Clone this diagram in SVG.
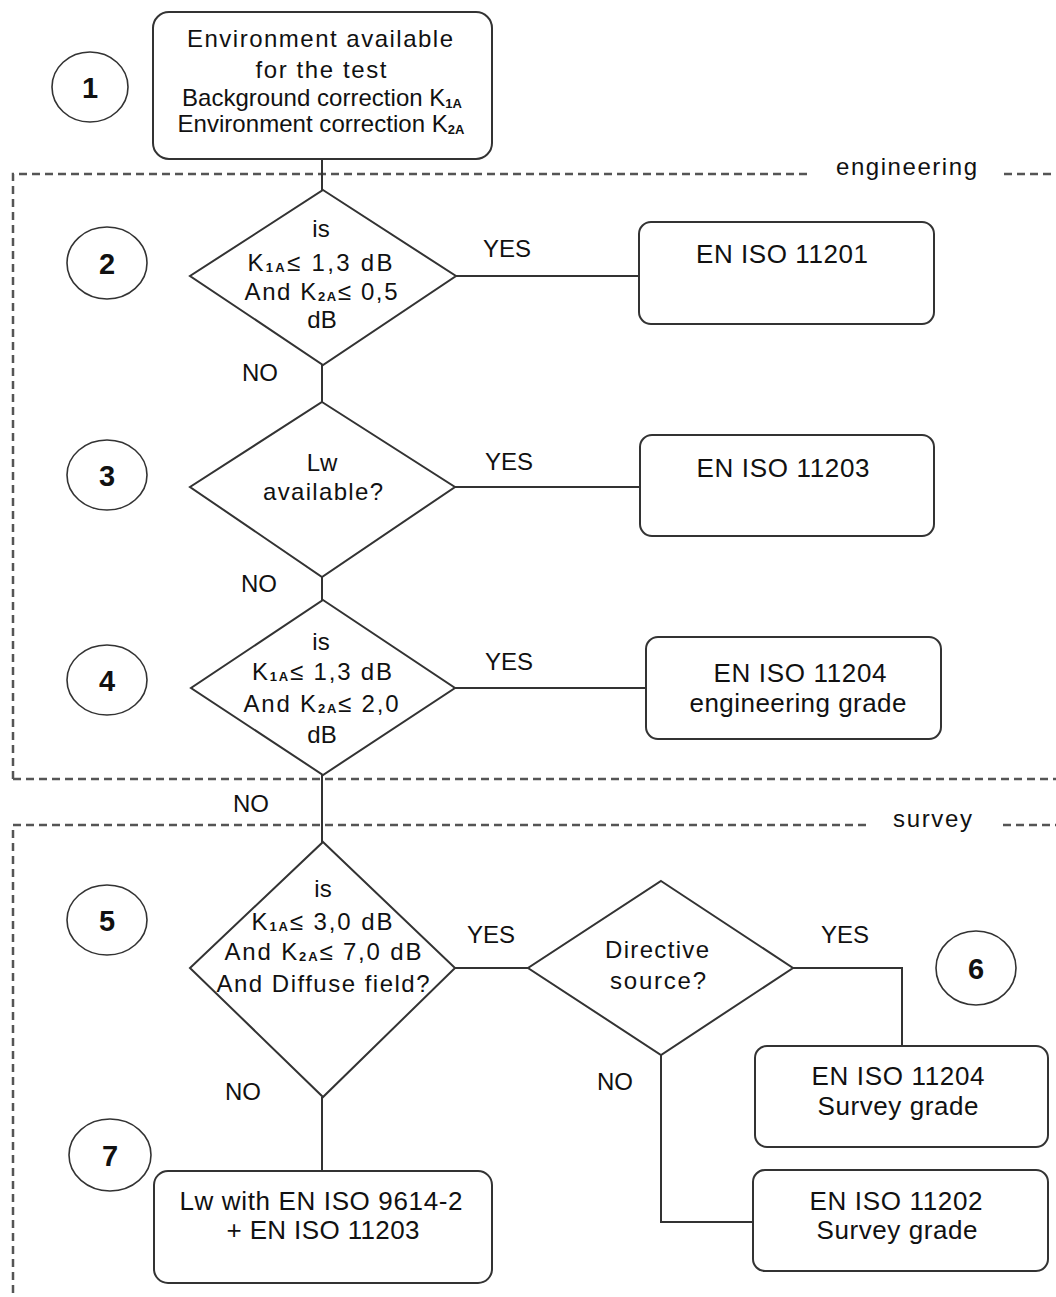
<svg xmlns="http://www.w3.org/2000/svg" width="1056" height="1297" viewBox="0 0 1056 1297">
<style>
.bg{fill:#fff}
.box{fill:#fff;stroke:#333;stroke-width:2}
.dia{fill:#fff;stroke:#333;stroke-width:2}
.circ{fill:#fff;stroke:#333;stroke-width:1.6}
.con{fill:none;stroke:#333;stroke-width:2}
.dash{fill:none;stroke:#555;stroke-width:2.5;stroke-dasharray:8 5}
text{font-family:"Liberation Sans",Arial,sans-serif;fill:#111}
.t{font-size:24px;text-anchor:middle}
.tb{font-size:26px;text-anchor:middle}
.lbl{font-size:24px}
.num{font-size:29px;font-weight:bold;text-anchor:middle}
.sub{font-size:13px;font-weight:bold}
</style>
<rect class="bg" x="0" y="0" width="1056" height="1297"/>

<g id="regions">
  <path class="dash" d="M13,1293 V825 H866"/>
  <path class="dash" d="M1003,825 H1056"/>
  <path class="dash" d="M13,779 V174 H808"/>
  <path class="dash" d="M1004,174 H1056"/>
  <path class="dash" d="M13,779 H1056"/>
  <text class="lbl" x="836" y="175" textLength="141" font-size="23">engineering</text>
  <text class="lbl" x="893" y="827" textLength="79" font-size="23">survey</text>
</g>

<g id="connectors">
  <path class="con" d="M322,159 V190"/>
  <path class="con" d="M456,276 H639"/>
  <path class="con" d="M322,365 V402"/>
  <path class="con" d="M455,487 H640"/>
  <path class="con" d="M322,577 V600"/>
  <path class="con" d="M455,688 H646"/>
  <path class="con" d="M322,775 V843"/>
  <path class="con" d="M455,968 H528"/>
  <path class="con" d="M793,968 H902 V1046"/>
  <path class="con" d="M661,1055 V1222 H753"/>
  <path class="con" d="M322,1097 V1171"/>
  <text class="lbl" x="483" y="257">YES</text>
  <text class="lbl" x="242" y="381">NO</text>
  <text class="lbl" x="485" y="470">YES</text>
  <text class="lbl" x="241" y="592">NO</text>
  <text class="lbl" x="485" y="670">YES</text>
  <text class="lbl" x="233" y="812">NO</text>
  <text class="lbl" x="467" y="943">YES</text>
  <text class="lbl" x="821" y="943">YES</text>
  <text class="lbl" x="597" y="1090">NO</text>
  <text class="lbl" x="225" y="1100">NO</text>
</g>

<g id="node1">
  <rect class="box" x="153" y="12" width="339" height="147" rx="16"/>
  <text class="t" x="320" y="47" font-size="26" textLength="266">Environment available</text>
  <text class="t" x="321" y="78" font-size="26" textLength="131">for the test</text>
  <text class="t" x="322" y="106" font-size="22" textLength="280">Background correction K<tspan class="sub" dy="2">1A</tspan></text>
  <text class="t" x="321" y="132" font-size="22" textLength="287">Environment correction K<tspan class="sub" dy="2">2A</tspan></text>
</g>

<g id="node2">
  <polygon class="dia" points="323,190 456,276 323,365 190,276"/>
  <text class="t" x="321" y="237">is</text>
  <text class="t" x="320" y="271" textLength="145">K<tspan class="sub" dy="1">1A</tspan><tspan dy="-1">≤ 1,3 dB</tspan></text>
  <text class="t" x="321" y="300" textLength="153">And K<tspan class="sub" dy="1">2A</tspan><tspan dy="-1">≤ 0,5</tspan></text>
  <text class="t" x="322" y="328">dB</text>
</g>

<g id="node3">
  <polygon class="dia" points="322,402 455,487 322,577 190,487"/>
  <text class="t" x="322" y="471">Lw</text>
  <text class="t" x="323" y="500" textLength="120">available?</text>
</g>

<g id="node4">
  <polygon class="dia" points="323,600 455,688 323,775 191,688"/>
  <text class="t" x="321" y="650">is</text>
  <text class="t" x="322" y="680" textLength="140">K<tspan class="sub" dy="1">1A</tspan><tspan dy="-1">≤ 1,3 dB</tspan></text>
  <text class="t" x="321" y="712" textLength="155">And K<tspan class="sub" dy="1">2A</tspan><tspan dy="-1">≤ 2,0</tspan></text>
  <text class="t" x="322" y="743">dB</text>
</g>

<g id="node5">
  <polygon class="dia" points="323,842 455,968 323,1097 190,968"/>
  <text class="t" x="323" y="897">is</text>
  <text class="t" x="322" y="930" textLength="141">K<tspan class="sub" dy="1">1A</tspan><tspan dy="-1">≤ 3,0 dB</tspan></text>
  <text class="t" x="323" y="960" textLength="197">And K<tspan class="sub" dy="1">2A</tspan><tspan dy="-1">≤ 7,0 dB</tspan></text>
  <text class="t" x="323" y="992" textLength="213">And Diffuse field?</text>
</g>

<g id="node6">
  <polygon class="dia" points="661,881 793,968 661,1055 528,968"/>
  <text class="t" x="657" y="958" textLength="104">Directive</text>
  <text class="t" x="658" y="989" textLength="96">source?</text>
</g>

<g id="box11201">
  <rect class="box" x="639" y="222" width="295" height="102" rx="12"/>
  <text class="tb" x="782" y="263" textLength="172">EN ISO 11201</text>
</g>

<g id="box11203">
  <rect class="box" x="640" y="435" width="294" height="101" rx="12"/>
  <text class="tb" x="783" y="477" textLength="173">EN ISO 11203</text>
</g>

<g id="box11204eng">
  <rect class="box" x="646" y="637" width="295" height="102" rx="12"/>
  <text class="tb" x="800" y="682" textLength="173">EN ISO 11204</text>
  <text class="tb" x="798" y="712" font-size="25" textLength="217">engineering grade</text>
</g>

<g id="box11204survey">
  <rect class="box" x="755" y="1046" width="293" height="101" rx="12"/>
  <text class="tb" x="898" y="1085" textLength="173">EN ISO 11204</text>
  <text class="tb" x="898" y="1115" font-size="25" textLength="161">Survey grade</text>
</g>

<g id="box11202">
  <rect class="box" x="753" y="1170" width="295" height="101" rx="12"/>
  <text class="tb" x="896" y="1210" textLength="173">EN ISO 11202</text>
  <text class="tb" x="897" y="1239" font-size="25" textLength="161">Survey grade</text>
</g>

<g id="box7">
  <rect class="box" x="154" y="1171" width="338" height="112" rx="14"/>
  <text class="tb" x="321" y="1210" textLength="283">Lw with EN ISO 9614-2</text>
  <text class="tb" x="323" y="1239" textLength="193">+ EN ISO 11203</text>
</g>

<g id="step1"><ellipse class="circ" cx="90" cy="87" rx="38" ry="35"/><text class="num" x="90" y="98">1</text></g>
<g id="step2"><ellipse class="circ" cx="107" cy="263" rx="40" ry="36"/><text class="num" x="107" y="274">2</text></g>
<g id="step3"><ellipse class="circ" cx="107" cy="475" rx="40" ry="35"/><text class="num" x="107" y="486">3</text></g>
<g id="step4"><ellipse class="circ" cx="107" cy="680" rx="40" ry="35"/><text class="num" x="107" y="691">4</text></g>
<g id="step5"><ellipse class="circ" cx="107" cy="920" rx="40" ry="35"/><text class="num" x="107" y="931">5</text></g>
<g id="step6"><ellipse class="circ" cx="976" cy="968" rx="40" ry="37"/><text class="num" x="976" y="979">6</text></g>
<g id="step7"><ellipse class="circ" cx="110" cy="1155" rx="41" ry="36"/><text class="num" x="110" y="1166">7</text></g>
</svg>
